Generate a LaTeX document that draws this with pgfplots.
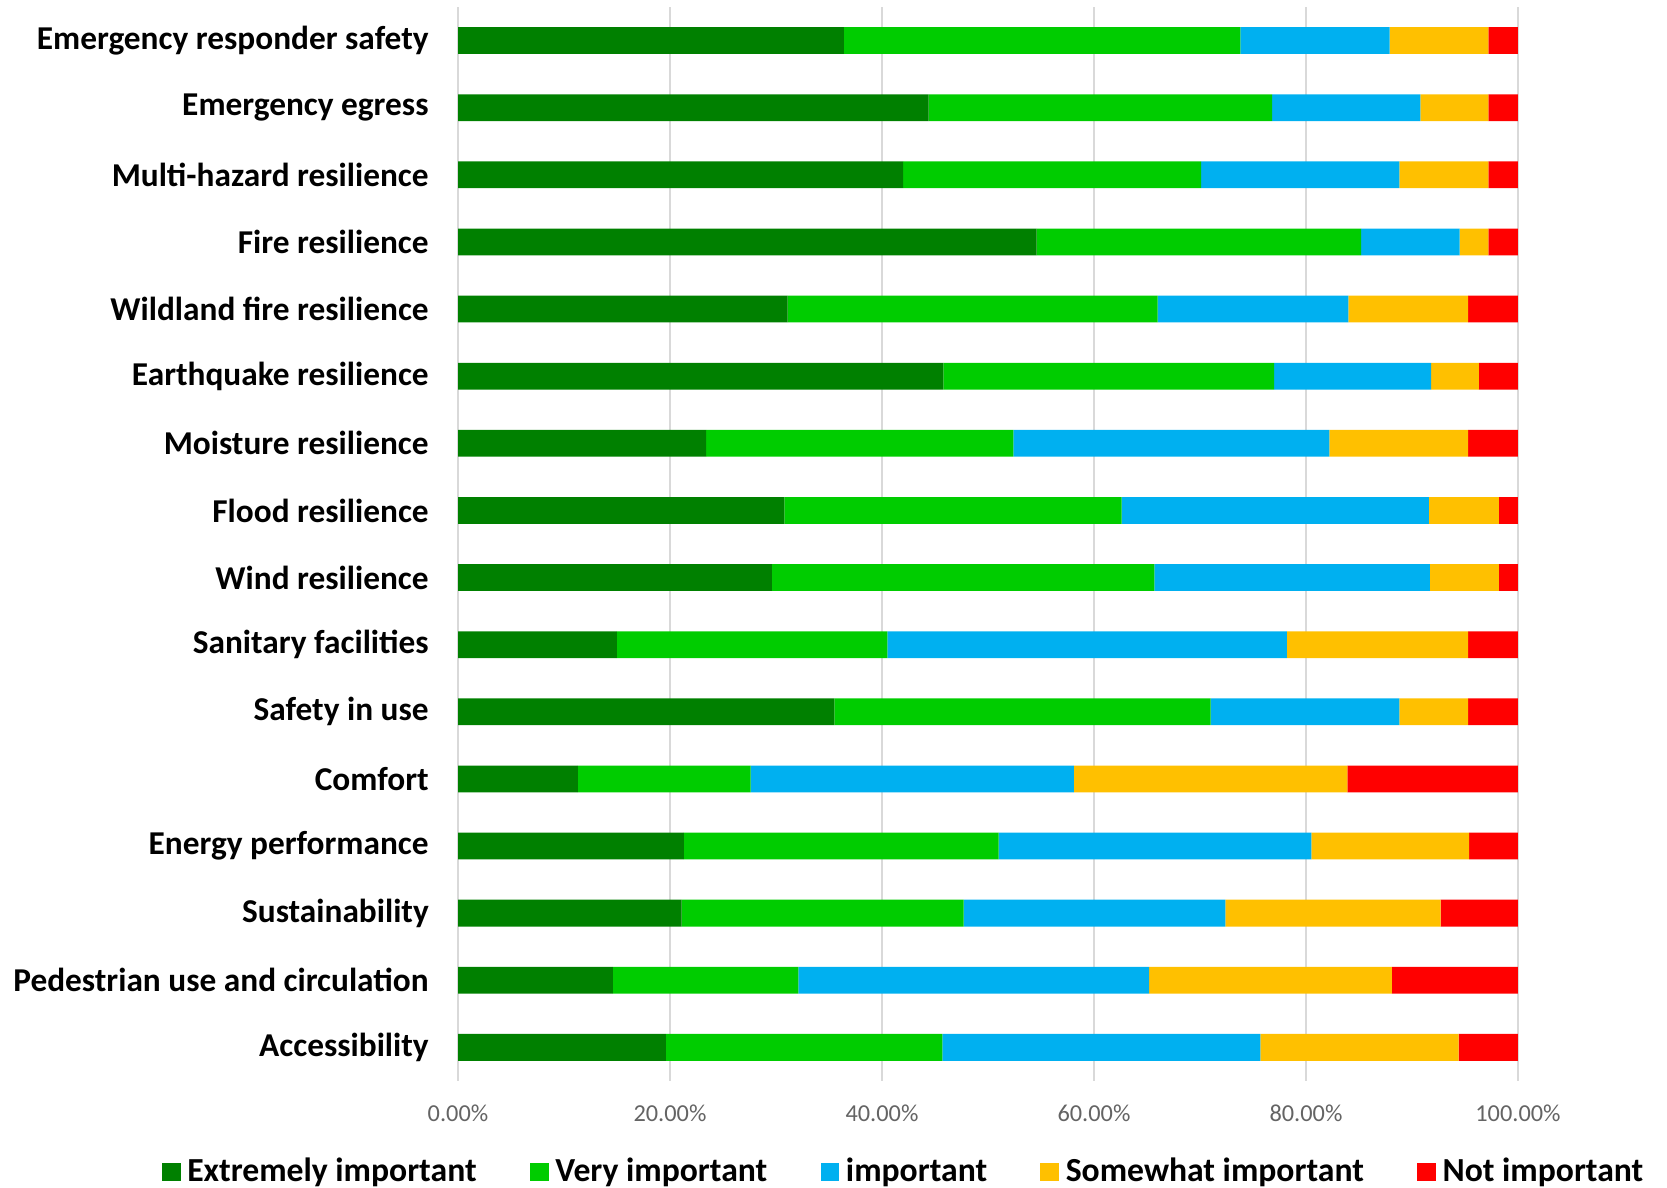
\documentclass[border=0pt]{standalone}
\usepackage{pgfplots}
\usepackage{pgfplotstable}
\pgfplotsset{compat=1.18}
\usepackage{fontspec}
\setmainfont{Carlito}

\definecolor{cExt}{RGB}{0,128,0}
\definecolor{cVery}{RGB}{0,204,0}
\definecolor{cImp}{RGB}{0,176,240}
\definecolor{cSome}{RGB}{255,192,0}
\definecolor{cNot}{RGB}{255,0,0}
\definecolor{gridgray}{RGB}{217,217,217}
\definecolor{tickgray}{RGB}{100,100,100}

% Share of respondents per rating (percent), listed top to bottom
\pgfplotstableread{
idx ext very imp some not
0  36.4 37.4 14.1  9.3  2.8
1  44.4 32.4 14.0  6.4  2.8
2  42.0 28.1 18.7  8.4  2.8
3  54.6 30.6  9.3  2.7  2.8
4  31.1 34.9 18.0 11.3  4.7
5  45.8 31.2 14.8  4.5  3.7
6  23.4 29.0 29.8 13.1  4.7
7  30.8 31.8 29.0  6.6  1.8
8  29.6 36.1 26.0  6.5  1.8
9  15.0 25.5 37.7 17.1  4.7
10 35.5 35.5 17.8  6.5  4.7
11 11.3 16.3 30.5 25.8 16.1
12 21.3 29.7 29.5 14.9  4.6
13 21.1 26.6 24.7 20.3  7.3
14 14.6 17.5 33.1 22.9 11.9
15 19.6 26.1 30.0 18.7  5.6
}\ratings

\begin{document}
\begin{tikzpicture}[x=1pt,y=1pt]
\begin{axis}[
  scale only axis,
  width=318pt, height=322.2pt,
  xbar stacked,
  bar width=0.4,
  y dir=reverse,
  xmin=0, xmax=100,
  ymin=-0.5, ymax=15.5,
  axis line style={draw=none},
  xmajorgrids,
  grid style={gridgray, line width=0.6pt},
  xtick={0,20,...,100},
  xticklabels={0.00\%,20.00\%,40.00\%,60.00\%,80.00\%,100.00\%},
  xticklabel style={font=\fontsize{7.3}{8}\selectfont, text=tickgray, yshift=-3.6pt},
  ytick={0,...,15},
  yticklabels={Emergency responder safety, Emergency egress, Multi-hazard resilience, Fire resilience, Wildland fire resilience, Earthquake resilience, Moisture resilience, Flood resilience, Wind resilience, Sanitary facilities, Safety in use, Comfort, Energy performance, Sustainability, Pedestrian use and circulation, Accessibility},
  yticklabel style={font=\fontsize{10}{12}\selectfont\bfseries, inner sep=0pt, xshift=-8.6pt},
  tick style={draw=none},
  legend columns=5,
  legend style={draw=none, at={(rel axis cs:0.4226,-0.085)}, anchor=center,
    font=\fontsize{10.1}{12}\selectfont\bfseries,
    /tikz/every even column/.append style={column sep=14pt}},
  legend image code/.code={\fill[#1] (0pt,-2.6pt) rectangle (5.6pt,2.9pt);},
  legend cell align=left,
]
\addplot[fill=cExt, draw=none] table[x=ext, y=idx] {\ratings};
\addlegendentry{Extremely important}
\addplot[fill=cVery, draw=none] table[x=very, y=idx] {\ratings};
\addlegendentry{Very important}
\addplot[fill=cImp, draw=none] table[x=imp, y=idx] {\ratings};
\addlegendentry{important}
\addplot[fill=cSome, draw=none] table[x=some, y=idx] {\ratings};
\addlegendentry{Somewhat important}
\addplot[fill=cNot, draw=none] table[x=not, y=idx] {\ratings};
\addlegendentry{Not important}
\coordinate (pageSW) at (rel axis cs:-0.4321,-0.0996);
\coordinate (pageNE) at (rel axis cs:1.1406,1.00652);
\end{axis}
\pgfresetboundingbox
\useasboundingbox (pageSW) rectangle (pageNE);
\end{tikzpicture}
\end{document}
